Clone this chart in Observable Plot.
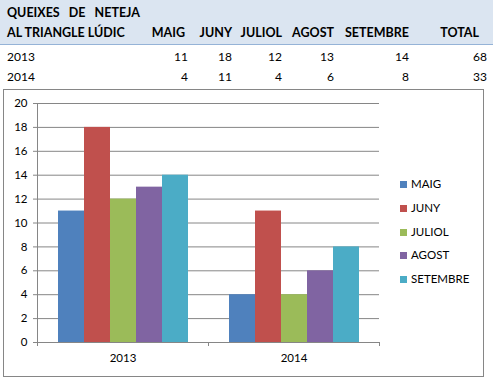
<!DOCTYPE html>
<html><head><meta charset="utf-8">
<script src="https://cdn.jsdelivr.net/npm/d3@7"></script>
<script src="https://cdn.jsdelivr.net/npm/@observablehq/plot@0.6"></script>
<style>
body{margin:0;background:#fff;font-family:Lato,"Open Sans",sans-serif;}
#page{position:relative;width:493px;height:378px;overflow:hidden;background:#fff;}
#hdr{position:absolute;left:0;top:0;width:493px;height:44px;background:#dbe5f1;border-bottom:1px solid #95b3d7;}
.t{position:absolute;font-size:12px;color:#000;white-space:pre;line-height:16px;}
.b{font-weight:bold;font-size:12.5px;}
#box{position:absolute;left:3px;top:89px;width:479px;height:286px;border:1px solid #868686;}
#chart{position:absolute;left:0;top:89px;}
#legend{position:absolute;left:400px;top:176px;font-size:11.5px;}
.li{height:23.8px;line-height:16px;white-space:nowrap;}
.sw{display:inline-block;width:7px;height:7px;margin-right:4px;vertical-align:0px;}
</style></head><body>
<div id="page"><div id="hdr"></div><div id="box"></div><div id="chart"></div><div id="legend"></div></div>
<script>
// ---- data ----
const years = ["2013", "2014"];
const months = ["MAIG", "JUNY", "JULIOL", "AGOST", "SETEMBRE"];
const values2013 = [11, 18, 12, 13, 14];
const values2014 = [4, 11, 4, 6, 8];
const yTicks = [0, 2, 4, 6, 8, 10, 12, 14, 16, 18, 20];
const colors = ["#4f81bd", "#c0504d", "#9bbb59", "#8064a2", "#4bacc6"];
const titleLines = ["QUEIXES   DE   NETEJA", "AL TRIANGLE LÚDIC"];
const totalLabel = "TOTAL";

// ---- layout (not data) ----
const headerRight = [185, 232, 282, 334, 409, 479];
const valueRight = [188, 232, 282, 334, 409, 487];
const rowCenters = [57, 77];
const page = document.getElementById("page");

function addText(txt, cls, left, right, center) {
  const d = document.createElement("div");
  d.className = "t " + cls;
  d.textContent = txt;
  d.style.top = (center - 8) + "px";
  if (left != null) d.style.left = left + "px";
  else d.style.right = (493 - right) + "px";
  page.appendChild(d);
}
addText(titleLines[0], "b", 7, null, 13);
addText(titleLines[1], "b", 7, null, 33);
[...months, totalLabel].forEach((m, i) => addText(m, "b", null, headerRight[i], 33));
const series = [values2013, values2014];
years.forEach((yr, r) => {
  addText(yr, "", 7, null, rowCenters[r]);
  [...series[r], d3.sum(series[r])].forEach((v, i) => addText(String(v), "", null, valueRight[i], rowCenters[r]));
});

// ---- chart ----
const rows = years.flatMap((yr, i) => months.map((m, j) => ({year: yr, month: m, value: series[i][j]})));
const gray = "#868686";
const chart = Plot.plot({
  width: 390, height: 283,
  marginTop: 14, marginBottom: 30, marginLeft: 37, marginRight: 11,
  style: {fontFamily: "Lato, sans-serif", fontSize: "11.5px", color: "#000", background: "transparent"},
  fx: {domain: years, padding: 0, label: null},
  x: {domain: months, paddingInner: 0, paddingOuter: 0.75, axis: null},
  y: {domain: [0, 20], label: null},
  color: {domain: months, range: colors},
  marks: [
    Plot.gridY(yTicks, {stroke: gray, strokeOpacity: 1}),
    Plot.axisY(yTicks, {tickSize: 4, tickPadding: 6, stroke: gray, fill: "#000", label: null, fontSize: 11.5}),
    Plot.barY(rows, {fx: "year", x: "month", y: "value", fill: "month"}),
    Plot.ruleY([0], {stroke: gray}),
    Plot.axisFx({anchor: "bottom", tickSize: 0, tickPadding: 11, label: null, fontSize: 11.5, fill: "#000"})
  ]
});
// axis line and category boundary ticks, positioned from the plot's own scales
const fx = chart.scale("fx"), ys = chart.scale("y");
const y0 = ys.apply(0), y20 = ys.apply(20);
const bounds = [...years.map(v => fx.apply(v)), fx.apply(years[years.length - 1]) + fx.bandwidth];
const g = d3.select(chart).append("g").attr("stroke", gray).attr("shape-rendering", "crispEdges");
g.append("line").attr("x1", bounds[0]).attr("x2", bounds[0]).attr("y1", y20).attr("y2", y0 + 4);
bounds.forEach(b => g.append("line").attr("x1", b).attr("x2", b).attr("y1", y0).attr("y2", y0 + 4));
document.getElementById("chart").appendChild(chart);

// ---- legend ----
const leg = d3.select("#legend");
months.forEach((m, i) => {
  const r = leg.append("div").attr("class", "li");
  r.append("span").attr("class", "sw").style("background", colors[i]);
  r.append("span").text(m);
});
</script>
</body></html>
